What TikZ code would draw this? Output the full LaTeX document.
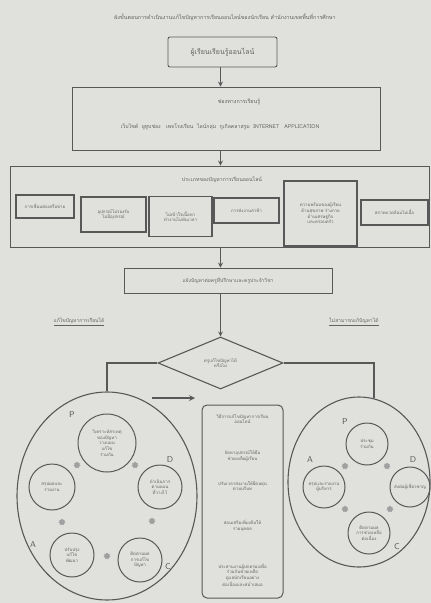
\documentclass[tikz,border=0pt]{standalone}
\usepackage{fontspec}
\newfontfamily\thai[Script=Thai]{Loma}
\usetikzlibrary{shapes.geometric,positioning}
\definecolor{paper}{RGB}{224,224,221}
\definecolor{ink}{RGB}{88,88,88}
\definecolor{txt}{RGB}{98,98,98}
\definecolor{gearc}{RGB}{160,160,160}
\begin{document}
\begin{tikzpicture}[x=1pt, y=-1pt, >=stealth, font=\thai\fontsize{4.4}{5.6}\selectfont, text=txt,
  box/.style={draw=ink, line width=0.9pt, inner sep=1pt, align=center},
  cyc/.style={circle, draw=ink, line width=1pt, align=center, inner sep=0pt},
  flow/.style={draw=ink, line width=1.2pt, ->},
  branch/.style={draw=ink, line width=2pt},
  pdca/.style={font=\sffamily\fontsize{8.5}{8.5}\selectfont, text=ink},
  gear/.style={star, star points=7, star point ratio=1.4, fill=gearc, inner sep=0pt, minimum size=7pt}]
  \fill[paper] (0,0) rectangle (431,603);
  \useasboundingbox (0,0) rectangle (431,603);
  % header and top flow
  \node[font=\thai\fontsize{5.4}{6}\selectfont] (title) at (225,17) {ผังขั้นตอนการดำเนินงานแก้ไขปัญหาการเรียนออนไลน์ของนักเรียน สำนักงานเขตพื้นที่การศึกษา};
  \node[box, rounded corners=2pt, minimum width=109, minimum height=30, font=\thai\fontsize{7}{8}\selectfont] (learner) at (222.5,52) {ผู้เรียนเรียนรู้ออนไลน์};
  \node[box, minimum width=308, minimum height=63] (channel) at (226,118.5) {};
  \node[font=\thai\fontsize{5.4}{6}\selectfont] (chtitle) at (239,102) {ช่องทางการเรียนรู้};
  \node[font=\thai\fontsize{5.2}{6}\selectfont] (chlist) at (220,127) {เว็บไซต์ \ ยูทูบช่อง \ \ เพจโรงเรียน \ ไลน์กลุ่ม \ กูเกิลคลาสรูม \ INTERNET \ \ APPLICATION};
  \node[box, minimum width=419, minimum height=81] (types) at (219.5,206.5) {};
  \node[font=\thai\fontsize{5.2}{6}\selectfont] (tytitle) at (222,180) {ประเภทของปัญหาการเรียนออนไลน์};
  \foreach \n/\p/\w/\h/\t in {t1/{45,206.5}/58/23/{การเชื่อมต่อเครือข่าย},
      t2/{113.5,214.5}/65/35/{อุปกรณ์ไม่รองรับ\\ไม่มีอุปกรณ์},
      t3/{180.5,216.5}/63/40/{ไม่เข้าใจเนื้อหา\\ทำงานไม่ทันเวลา},
      t4/{246.5,210.5}/65/25/{การส่งงานล่าช้า},
      t6/{394.5,212.5}/67/25/{สภาพแวดล้อมไม่เอื้อ}}{
    \node[box, line width=1.1pt, minimum width=\w, minimum height=\h] (\n) at (\p) {\t};
  }
  \node[box, line width=1.5pt, minimum width=73, minimum height=65] (t5) at (320.5,213.5) {ความพร้อมของผู้เรียน\\ด้านสุขภาพ ร่างกาย\\ด้านเศรษฐกิจ\\และครอบครัว};
  \node[box, minimum width=208, minimum height=25, font=\thai\fontsize{5}{6}\selectfont] (report) at (228,280.5) {แจ้งปัญหาต่อครูที่ปรึกษาและครูประจำวิชา};
  \node[diamond, draw=ink, line width=1.1pt, minimum width=125, minimum height=52, inner sep=0pt, align=center] (decide) at (220.5,363) {ครูแก้ไขปัญหาได้\\หรือไม่};
  \coordinate (spine) at (220.5,0);
  \draw[flow] (learner.south -| spine) -- (channel.north -| spine);
  \draw[flow] (channel.south -| spine) -- (types.north -| spine);
  \draw[flow] (types.south -| spine) -- (report.north -| spine);
  \draw[flow] (report.south -| spine) -- (decide);
  % two branches
  \node[font=\thai\fontsize{5}{6}\selectfont] (solved) at (79,322) {\underline{แก้ไขปัญหาการเรียนได้}};
  \node[font=\thai\fontsize{5}{6}\selectfont] (notsolved) at (354,322) {\underline{ไม่สามารถแก้ปัญหาได้}};
  \node[ellipse, draw=ink, line width=1.1pt, minimum width=180, minimum height=208] (solve) at (107,496) {};
  \node[ellipse, draw=ink, line width=1.1pt, minimum width=142, minimum height=170] (refer) at (359,482) {};
  \draw[branch] (decide.west) -| (solve.north);
  \draw[branch] (decide.east) -| (refer.80);
  \coordinate (a1) at (152,398);
  \coordinate (a2) at (195,398);
  \draw[flow, line width=1.6pt] (a1) -- (a2);
  % middle box
  \node[draw=ink, line width=1pt, rounded corners=5pt, minimum width=81, minimum height=193] (howto) at (242.5,501.5) {};
  \foreach \n/\y/\t in {m1/419/{วิธีการแก้ไขปัญหาการเรียน\\ออนไลน์}, m2/456/{จัดหาอุปกรณ์ให้ยืม\\ช่วยเหลือผู้เรียน},
      m3/486/{ปรับเวลาส่งงานให้ยืดหยุ่น\\ตามบริบท}, m4/526/{สอนเสริมเพิ่มเติมให้\\รายบุคคล},
      m5/575/{ประสานงานผู้ปกครองเพื่อ\\ร่วมกันช่วยเหลือ\\ดูแลนักเรียนอย่าง\\ต่อเนื่องและสม่ำเสมอ}}{
    \node[align=center] (\n) at (242.5,\y) {\t};
  }
  % left cycle
  \foreach \n/\p/\r/\t in {lp/{107,443}/58/{วิเคราะห์สาเหตุ\\ของปัญหา\\วางแผน\\แก้ไข\\ร่วมกัน},
      ld/{160,487}/44/{ดำเนินการ\\ตามแผน\\ที่วางไว้}, lc/{140,560}/44/{ติดตามผล\\การแก้ไข\\ปัญหา},
      la/{72,555}/44/{ปรับปรุง\\แก้ไข\\พัฒนา}, ls/{52,487}/46/{สรุปผลและ\\รายงาน}}{
    \node[cyc, minimum size=\r] (\n) at (\p) {\t};
  }
  % right cycle
  \foreach \n/\p/\r/\t in {rp/{367,444}/42/{ประชุม\\ร่วมกัน}, rd/{410,487}/40/{ส่งต่อผู้เชี่ยวชาญ},
      rc/{369,533}/42/{ติดตามผล\\การช่วยเหลือ\\ต่อเนื่อง}, ra/{324,487}/42/{สรุปและรายงาน\\ผู้บริหาร}}{
    \node[cyc, minimum size=\r] (\n) at (\p) {\t};
  }
  \foreach \l/\p in {P/{72,415}, D/{170,460}, C/{168,567}, A/{33,545}, P/{345,422}, D/{413,460}, C/{397,547}, A/{310,460}}{
    \node[pdca] at (\p) {\l};
  }
  \foreach \p in {{77,465}, {135,465}, {152,521}, {62,522}, {107,556}, {345,466}, {387,466}, {345,509}, {390,509}}{
    \node[gear] at (\p) {};
  }
\end{tikzpicture}
\end{document}
